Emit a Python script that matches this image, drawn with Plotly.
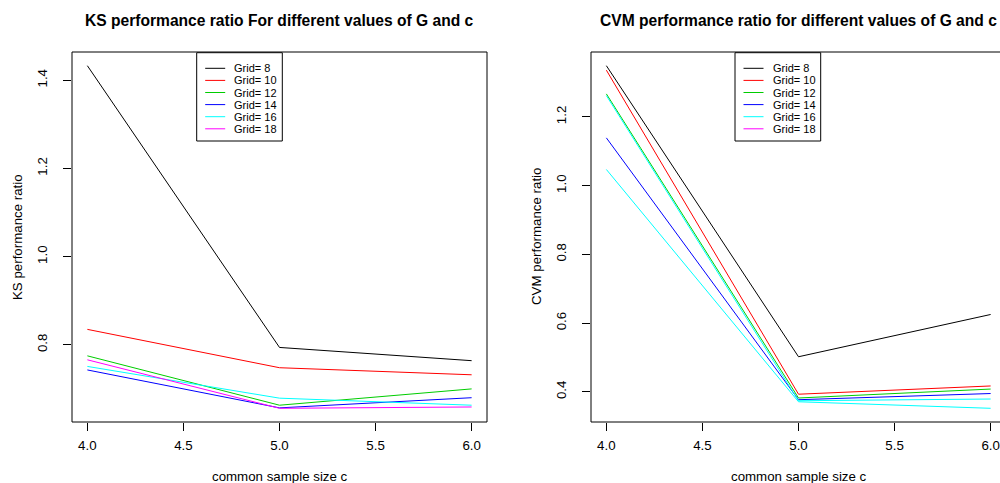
import plotly.graph_objects as go

# ---------------- data ----------------
c_sizes = [4, 5, 6]
grid_labels = ["Grid= 8", "Grid= 10", "Grid= 12", "Grid= 14", "Grid= 16", "Grid= 18"]

ks_g8 = [1.433, 0.794, 0.764]
ks_g10 = [0.835, 0.748, 0.732]
ks_g12 = [0.775, 0.663, 0.700]
ks_g14 = [0.743, 0.657, 0.680]
ks_g16 = [0.751, 0.679, 0.663]
ks_g18 = [0.766, 0.656, 0.659]

cvm_g8 = [1.349, 0.502, 0.625]
cvm_g10 = [1.336, 0.393, 0.417]
cvm_g12 = [1.267, 0.382, 0.408]
cvm_g14 = [1.139, 0.377, 0.395]
cvm_g16 = [1.047, 0.371, 0.352]
cvm_g18 = [1.262, 0.374, 0.379]

ks_ticks = [0.8, 1.0, 1.2, 1.4]
cvm_ticks = [0.4, 0.6, 0.8, 1.0, 1.2]
x_ticks = [4.0, 4.5, 5.0, 5.5, 6.0]

legend_colors = ["#000000", "#FF0000", "#00CD00", "#0000FF", "#00FFFF", "#FF00FF"]
cvm_line_colors = ["#000000", "#FF0000", "#00CD00", "#0000FF", "#00FFFF", "#00FFFF"]

ks_series = [ks_g8, ks_g10, ks_g12, ks_g14, ks_g16, ks_g18]
cvm_series = [cvm_g8, cvm_g10, cvm_g12, cvm_g14, cvm_g16, cvm_g18]

W, H = 1000, 483
FONT = "Liberation Sans, Arial, sans-serif"


def px(x):
    return x / W


def py(y):
    return 1 - y / H


def r_range(vals):
    lo, hi = min(vals), max(vals)
    d = (hi - lo) * 0.04
    return [lo - d, hi + d]


fig = go.Figure()

for s, col, lab in zip(ks_series, legend_colors, grid_labels):
    fig.add_trace(go.Scatter(x=c_sizes, y=s, mode="lines", line=dict(color=col, width=1),
                             name=lab, xaxis="x", yaxis="y", showlegend=False))
for s, col, lab in zip(cvm_series, cvm_line_colors, grid_labels):
    fig.add_trace(go.Scatter(x=c_sizes, y=s, mode="lines", line=dict(color=col, width=1),
                             name=lab, xaxis="x2", yaxis="y2", showlegend=False))

ks_all = [v for s in ks_series for v in s]
cvm_all = [v for s in cvm_series for v in s]

# panel geometry (pixels)
top, bot = 52, 422
L1, R1 = 72, 487
L2, R2 = 591, 1006
xr = r_range(c_sizes)
ppu = (R1 - L1) / (xr[1] - xr[0])
xr2 = [xr[0], xr[0] + (W - L2) / ppu]

tickfont = dict(family=FONT, size=13.3, color="#000000")
axcommon = dict(showgrid=False, zeroline=False, showline=False, ticks="outside",
                ticklen=8, tickwidth=1, tickcolor="#000000", tickfont=tickfont,
                tickformat=".1f", tickmode="array")

fig.update_layout(
    width=W, height=H, margin=dict(l=0, r=0, t=0, b=0),
    paper_bgcolor="white", plot_bgcolor="white", showlegend=False,
    xaxis=dict(domain=[px(L1), px(R1)], range=xr, tickvals=x_ticks, anchor="y",
               ticklabelstandoff=3, **axcommon),
    yaxis=dict(domain=[py(bot), py(top)], range=r_range(ks_all), tickvals=ks_ticks,
               tickangle=-90, anchor="x", ticklabelstandoff=11, **axcommon),
    xaxis2=dict(domain=[px(L2), 1.0], range=xr2, tickvals=x_ticks, anchor="y2",
                ticklabelstandoff=3, **axcommon),
    yaxis2=dict(domain=[py(bot), py(top)], range=r_range(cvm_all), tickvals=cvm_ticks,
                tickangle=-90, anchor="x2", ticklabelstandoff=11, **axcommon),
)

shapes = []
anns = []
# boxes
for (l, r) in [(L1, R1), (L2, R2)]:
    shapes.append(dict(type="rect", xref="paper", yref="paper", x0=px(l), x1=px(r),
                       y0=py(bot), y1=py(top), line=dict(color="#000000", width=1)))

# titles and axis labels
titles = ["KS performance ratio For different values of G and c",
          "CVM performance ratio for different values of G and c"]
ylabels = ["KS performance ratio", "CVM performance ratio"]
xlabel = "common sample size c"
for (l, r), t, yl, ylx in zip([(L1, R1), (L2, R2)], titles, ylabels, [18, 537]):
    cx = (l + r) / 2
    anns.append(dict(text="<b>%s</b>" % t, x=px(cx), y=py(20), xref="paper", yref="paper",
                     showarrow=False, xanchor="center", yanchor="middle",
                     font=dict(family=FONT, size=15.6, color="#000000")))
    anns.append(dict(text=xlabel, x=px(cx), y=py(476), xref="paper", yref="paper",
                     showarrow=False, xanchor="center", yanchor="middle",
                     font=dict(family=FONT, size=13.3, color="#000000")))
    anns.append(dict(text=yl, x=px(ylx), y=py((top + bot) / 2), xref="paper", yref="paper",
                     showarrow=False, xanchor="center", yanchor="middle", textangle=-90,
                     font=dict(family=FONT, size=13.3, color="#000000")))

# legends
for lx0, lx1 in [(196.7, 282.3), (735, 820.7)]:
    shapes.append(dict(type="rect", xref="paper", yref="paper", x0=px(lx0), x1=px(lx1),
                       y0=py(141), y1=py(52.7), line=dict(color="#000000", width=1),
                       fillcolor="white"))
    for i, (lab, col) in enumerate(zip(grid_labels, legend_colors)):
        yy = 68.3 + i * 12.1
        shapes.append(dict(type="line", xref="paper", yref="paper", x0=px(lx0 + 8.5),
                           x1=px(lx0 + 28.5), y0=py(yy), y1=py(yy),
                           line=dict(color=col, width=1)))
        anns.append(dict(text=lab, x=px(lx0 + 35.5), y=py(yy), xref="paper", yref="paper",
                         showarrow=False, xanchor="left", yanchor="middle",
                         font=dict(family=FONT, size=11, color="#000000")))

fig.update_layout(shapes=shapes, annotations=anns)
fig.write_html("out.html", config={"displayModeBar": False},
               post_script="document.body.style.margin='0';")
